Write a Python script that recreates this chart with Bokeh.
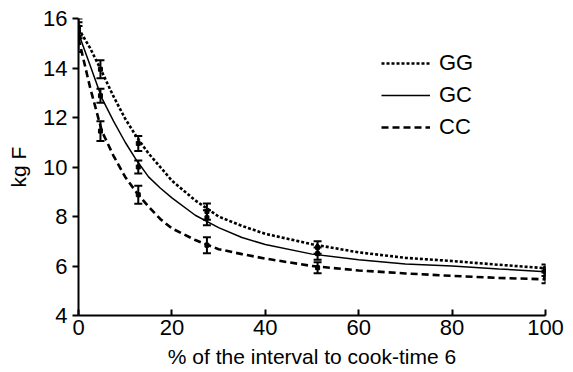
from bokeh.plotting import figure
from bokeh.models import ColumnDataSource, Whisker, TeeHead, FixedTicker, Legend, LegendItem, Range1d
from bokeh.embed import file_html
from bokeh.resources import INLINE

# fitted curves
curve_x = [0, 2.5, 5, 7.5, 10, 12.5, 15, 17.5, 20, 25, 30, 35, 40, 50, 60, 70, 80, 90, 100]
gg_curve = [15.6, 14.8, 13.85, 12.85, 11.95, 11.2, 10.55, 10.0, 9.45, 8.65, 8.0, 7.62, 7.3, 6.88, 6.55, 6.33, 6.2, 6.05, 5.91]
gc_curve = [15.4, 14.1, 12.78, 11.85, 11.0, 10.25, 9.6, 9.15, 8.75, 8.05, 7.55, 7.15, 6.87, 6.48, 6.25, 6.08, 6.0, 5.88, 5.77]
cc_curve = [15.2, 13.2, 11.45, 10.45, 9.6, 8.95, 8.4, 7.9, 7.52, 7.05, 6.68, 6.48, 6.3, 6.0, 5.82, 5.7, 5.6, 5.52, 5.46]

# measured points with error bars
pt_x = [0, 4.7, 12.8, 27.5, 51.2, 100]
gg_mean = [15.65, 13.95, 10.95, 8.2, 6.75, 5.9]
gg_err = [0.35, 0.36, 0.3, 0.33, 0.25, 0.16]
gc_mean = [15.45, 12.88, 10.0, 7.95, 6.5, 5.75]
gc_err = [0.25, 0.28, 0.26, 0.3, 0.25, 0.15]
cc_mean = [15.25, 11.45, 8.88, 6.84, 5.93, 5.55]
cc_err = [0.6, 0.4, 0.36, 0.32, 0.22, 0.25]

x_ticks = [0, 20, 40, 60, 80, 100]
y_ticks = [4, 6, 8, 10, 12, 14, 16]

FONT = "Liberation Sans"

p = figure(width=565, height=372, output_backend="svg", toolbar_location=None,
           x_range=Range1d(0, 100), y_range=Range1d(4, 16),
           min_border_left=78, min_border_right=20, min_border_top=18, min_border_bottom=57)
p.outline_line_color = None
p.xgrid.visible = False
p.ygrid.visible = False
p.background_fill_color = "white"

styles = [
    ("GG", gg_curve, gg_mean, gg_err, dict(line_dash="3 2", line_width=2.6)),
    ("GC", gc_curve, gc_mean, gc_err, dict(line_width=1.5)),
    ("CC", cc_curve, cc_mean, cc_err, dict(line_dash="7 4", line_width=2.6)),
]

items = []
for name, curve, mean, err, st in styles:
    r = p.line(curve_x, curve, line_color="black", **st)
    items.append(LegendItem(label=name, renderers=[r]))
    src = ColumnDataSource(dict(x=pt_x, y=mean,
                                lo=[m - e for m, e in zip(mean, err)],
                                hi=[m + e for m, e in zip(mean, err)]))
    p.scatter("x", "y", source=src, marker="square", size=4, color="black")
    w = Whisker(source=src, base="x", lower="lo", upper="hi",
                line_color="black", line_width=2,
                lower_head=TeeHead(size=8, line_width=2, line_color="black"),
                upper_head=TeeHead(size=8, line_width=2, line_color="black"))
    p.add_layout(w)

legend = Legend(items=items, location=(303, 173), padding=0, margin=0,
                border_line_color=None, background_fill_alpha=0,
                glyph_width=49, glyph_height=30, label_height=30, spacing=2,
                label_standoff=9, label_text_font=FONT, label_text_font_size="22px",
                label_text_color="black")
p.add_layout(legend, "center")

for ax in (p.xaxis[0], p.yaxis[0]):
    ax.axis_line_width = 2
    ax.axis_line_color = "black"
    ax.major_tick_line_width = 2
    ax.major_tick_line_color = "black"
    ax.minor_tick_line_color = None
    ax.major_label_text_font = FONT
    ax.major_label_text_font_size = "22px"
    ax.major_label_text_color = "black"
    ax.axis_label_text_font = FONT
    ax.axis_label_text_font_size = "21px"
    ax.axis_label_text_font_style = "normal"
    ax.axis_label_text_color = "black"

p.xaxis[0].ticker = FixedTicker(ticks=x_ticks)
p.yaxis[0].ticker = FixedTicker(ticks=y_ticks)
p.xaxis[0].major_tick_in = 6
p.xaxis[0].major_tick_out = 0
p.yaxis[0].major_tick_in = 0
p.yaxis[0].major_tick_out = 6
p.xaxis[0].major_label_standoff = 4
p.yaxis[0].major_label_standoff = 5
p.xaxis[0].axis_label = "% of the interval to cook-time 6"
p.yaxis[0].axis_label = "kg F"
p.xaxis[0].axis_label_standoff = 7
p.yaxis[0].axis_label_standoff = 10

open("out.html", "w").write(file_html(p, INLINE))
